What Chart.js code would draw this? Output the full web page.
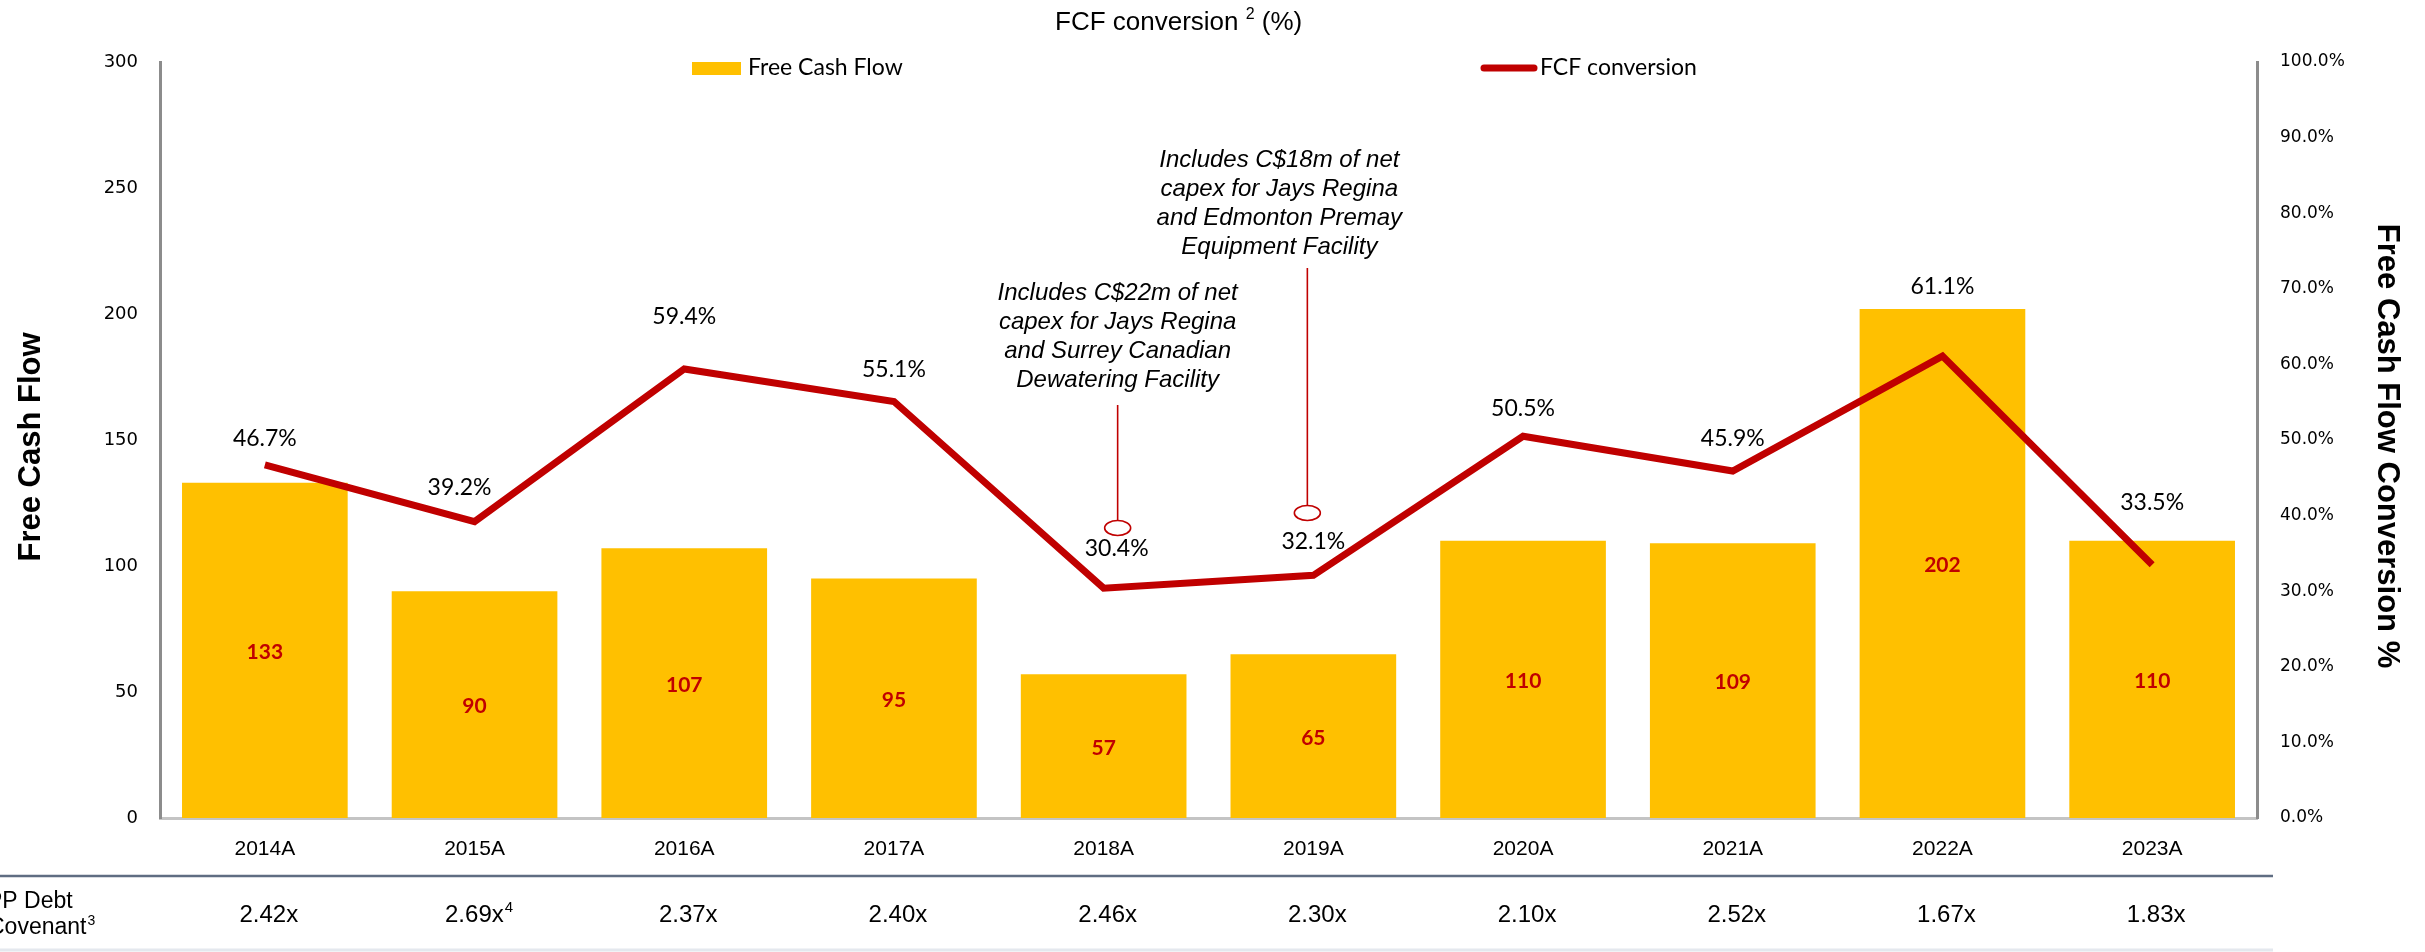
<!DOCTYPE html>
<html>
<head>
<meta charset="utf-8">
<script src="https://cdn.jsdelivr.net/npm/chart.js@4.4.1/dist/chart.umd.min.js"></script>
<style>
  body { margin: 0; background: #fff; }
  #wrap { width: 2425px; height: 952px; }
</style>
</head>
<body>
<div id="wrap"><canvas id="fcfChart" width="2425" height="952"></canvas></div>
<script>
const years = ['2014A', '2015A', '2016A', '2017A', '2018A', '2019A', '2020A', '2021A', '2022A', '2023A'];
const freeCashFlow = [133, 90, 107, 95, 57, 65, 110, 109, 202, 110];
const fcfConversion = [46.7, 39.2, 59.4, 55.1, 30.4, 32.1, 50.5, 45.9, 61.1, 33.5];
const debtCovenant = ['2.42x', '2.69x', '2.37x', '2.40x', '2.46x', '2.30x', '2.10x', '2.52x', '1.67x', '1.83x'];
const covenantNotes = ['', '4', '', '', '', '', '', '', '', ''];
const leftTicks = [0, 50, 100, 150, 200, 250, 300];
const rightTicks = [0, 10, 20, 30, 40, 50, 60, 70, 80, 90, 100];

const RED = '#C00000';
const GOLD = '#FFC000';

// label nudges [dx, dy above point] for the % labels
const pctNudge = [[0, 26], [-15, 34], [0, 52], [0, 32], [13, 40], [0, 34], [0, 28], [0, 32], [0, 70], [0, 62]];

const notes = [
  { idx: 4, dx: 14, lines: ['Includes C$22m of net', 'capex for Jays Regina', 'and Surrey Canadian', 'Dewatering Facility'],
    textY: 293, lineTop: 405, circleY: 528 },
  { idx: 5, dx: -6, textDx: -28, lines: ['Includes C$18m of net', 'capex for Jays Regina', 'and Edmonton Premay', 'Equipment Facility'],
    textY: 160, lineTop: 268, circleY: 513 }
];

function supText(ctx, main, sup, cx, y, font, supFont, supRise) {
  ctx.font = font;
  const w1 = ctx.measureText(main).width;
  ctx.font = supFont;
  const w2 = sup ? ctx.measureText(sup).width : 0;
  const x0 = cx - (w1 + w2) / 2;
  ctx.textAlign = 'left';
  ctx.font = font;
  ctx.fillText(main, x0, y);
  if (sup) {
    ctx.font = supFont;
    ctx.fillText(sup, x0 + w1 + 1, y - supRise);
  }
}

const decorPlugin = {
  id: 'decor',
  afterDatasetsDraw(chart) {
    const ctx = chart.ctx;
    const xs = chart.scales.x;
    ctx.save();
    ctx.textBaseline = 'middle';

    // bar values
    const barMeta = chart.getDatasetMeta(0);
    ctx.fillStyle = RED;
    ctx.font = 'bold 21px Lato';
    ctx.textAlign = 'center';
    barMeta.data.forEach((el, i) => {
      ctx.fillText(String(freeCashFlow[i]), el.x, (el.y + el.base) / 2 + 2);
    });

    // line values
    const lineMeta = chart.getDatasetMeta(1);
    ctx.fillStyle = '#000';
    ctx.font = '23px Lato';
    lineMeta.data.forEach((el, i) => {
      const n = pctNudge[i];
      ctx.fillText(fcfConversion[i].toFixed(1) + '%', el.x + n[0], el.y - n[1]);
    });

    // annotations
    notes.forEach(nt => {
      const px = xs.getPixelForValue(nt.idx) + nt.dx;
      const tx = px + (nt.textDx || 0);
      ctx.fillStyle = '#000';
      ctx.font = 'italic 24px "Liberation Sans", Arial';
      ctx.textAlign = 'center';
      nt.lines.forEach((t, k) => ctx.fillText(t, tx, nt.textY + k * 29));
      ctx.strokeStyle = RED;
      ctx.lineWidth = 1.6;
      ctx.beginPath();
      ctx.moveTo(px, nt.lineTop);
      ctx.lineTo(px, nt.circleY - 7.5);
      ctx.stroke();
      ctx.beginPath();
      ctx.ellipse(px, nt.circleY, 13, 7.5, 0, 0, Math.PI * 2);
      ctx.stroke();
    });
    ctx.restore();
  },
  afterDraw(chart) {
    const ctx = chart.ctx;
    const xs = chart.scales.x;
    ctx.save();
    ctx.textBaseline = 'middle';
    ctx.fillStyle = '#000';

    // title
    ctx.textAlign = 'left';
    ctx.font = '26px "Liberation Sans", Arial';
    const t1 = 'FCF conversion ';
    ctx.fillText(t1, 1055, 23);
    let w = ctx.measureText(t1).width;
    ctx.font = '16px "Liberation Sans", Arial';
    ctx.fillText('2', 1055 + w, 15);
    const w2 = ctx.measureText('2').width;
    ctx.font = '26px "Liberation Sans", Arial';
    ctx.fillText(' (%)', 1055 + w + w2, 23);

    // legend
    ctx.fillStyle = GOLD;
    ctx.fillRect(692, 62, 49, 13);
    ctx.fillStyle = '#000';
    ctx.font = '23px Lato';
    ctx.fillText('Free Cash Flow', 748, 68);
    ctx.strokeStyle = RED;
    ctx.lineWidth = 7;
    ctx.lineCap = 'round';
    ctx.beginPath();
    ctx.moveTo(1484, 68);
    ctx.lineTo(1534, 68);
    ctx.stroke();
    ctx.lineCap = 'butt';
    ctx.fillText('FCF conversion', 1540, 68);

    // axis titles
    ctx.font = 'bold 31px "Liberation Sans", Arial';
    ctx.textAlign = 'center';
    ctx.save();
    ctx.translate(31, 447);
    ctx.rotate(-Math.PI / 2);
    ctx.fillText('Free Cash Flow', 0, 0);
    ctx.restore();
    ctx.save();
    ctx.translate(2387, 446);
    ctx.rotate(Math.PI / 2);
    ctx.fillText('Free Cash Flow Conversion %', 0, 0);
    ctx.restore();

    // covenant table
    ctx.strokeStyle = '#5f6d82';
    ctx.lineWidth = 2.5;
    ctx.beginPath();
    ctx.moveTo(0, 876);
    ctx.lineTo(2273, 876);
    ctx.stroke();
    ctx.strokeStyle = '#e4e8ee';
    ctx.lineWidth = 3;
    ctx.beginPath();
    ctx.moveTo(0, 950);
    ctx.lineTo(2273, 950);
    ctx.stroke();

    ctx.fillStyle = '#000';
    ctx.textAlign = 'left';
    ctx.font = '23px "Liberation Sans", Arial';
    ctx.fillText('PP Debt', -13, 902);
    ctx.fillText('Covenant', -12, 928);
    const cw = ctx.measureText('Covenant').width;
    ctx.font = '14px "Liberation Sans", Arial';
    ctx.fillText('3', -12 + cw + 1, 921);

    debtCovenant.forEach((v, i) => {
      const cx = xs.getPixelForValue(i) + 4;
      supText(ctx, v, covenantNotes[i], cx, 915, '24px "Liberation Sans", Arial', '15px "Liberation Sans", Arial', 7);
    });
    ctx.restore();
  }
};

new Chart(document.getElementById('fcfChart').getContext('2d'), {
  data: {
    labels: years,
    datasets: [
      {
        type: 'bar',
        label: 'Free Cash Flow',
        data: freeCashFlow,
        backgroundColor: GOLD,
        barPercentage: 0.79,
        categoryPercentage: 1.0,
        yAxisID: 'y',
        order: 2
      },
      {
        type: 'line',
        label: 'FCF conversion',
        data: fcfConversion,
        borderColor: RED,
        backgroundColor: RED,
        borderWidth: 7,
        pointRadius: 0,
        tension: 0,
        yAxisID: 'y1',
        order: 1
      }
    ]
  },
  options: {
    responsive: false,
    animation: false,
    layout: { padding: { top: 62, left: 0, right: 0, bottom: 0 } },
    plugins: {
      legend: { display: false },
      tooltip: { enabled: false }
    },
    scales: {
      x: {
        type: 'category',
        offset: true,
        grid: { display: false, drawTicks: false },
        border: { display: true, color: '#c4c4c4', width: 3 },
        ticks: {
          color: '#000',
          padding: 19,
          font: { family: '"Liberation Sans", Arial', size: 21 }
        },
        afterFit: s => { s.height = 134; }
      },
      y: {
        position: 'left',
        min: 0,
        max: 300,
        grid: { display: false, drawTicks: false },
        border: { display: true, color: '#8c8c8c', width: 3 },
        ticks: {
          color: '#000',
          padding: 22,
          font: { family: '"DejaVu Sans", Verdana', size: 18 }
        },
        afterBuildTicks: s => { s.ticks = leftTicks.map(v => ({ value: v })); },
        afterFit: s => { s.width = 160; }
      },
      y1: {
        position: 'right',
        min: 0,
        max: 100,
        grid: { display: false, drawTicks: false },
        border: { display: true, color: '#8c8c8c', width: 3 },
        ticks: {
          color: '#000',
          padding: 23,
          font: { family: '"DejaVu Sans", Verdana', size: 17 },
          callback: v => v.toFixed(1) + '%'
        },
        afterBuildTicks: s => { s.ticks = rightTicks.map(v => ({ value: v })); },
        afterFit: s => { s.width = 168; }
      }
    }
  },
  plugins: [decorPlugin]
});
</script>
</body>
</html>
